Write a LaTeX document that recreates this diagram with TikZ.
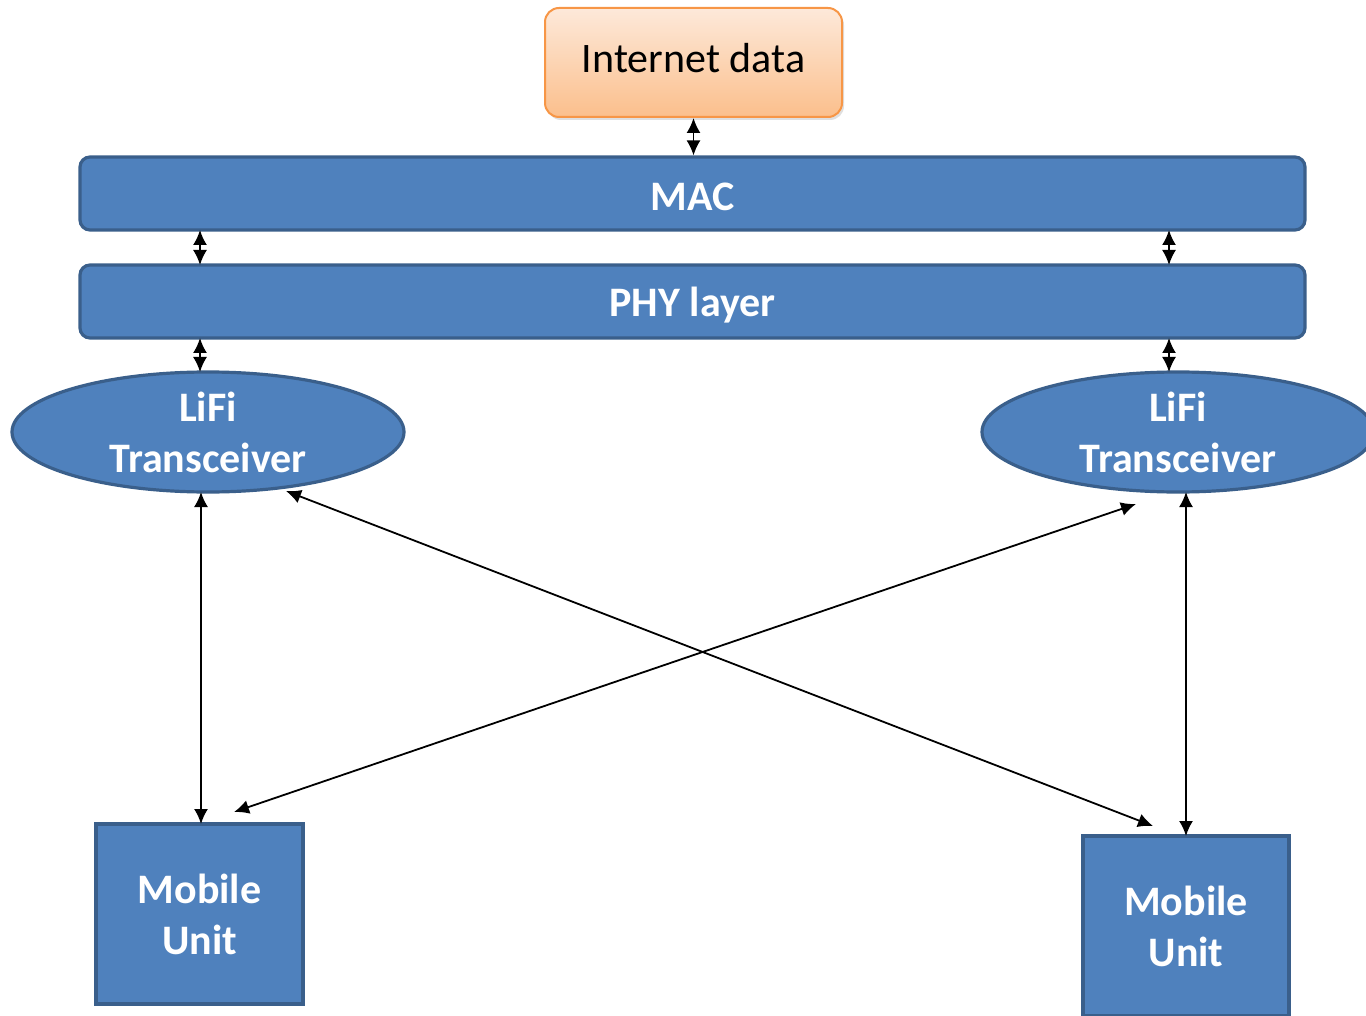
\documentclass[tikz,border=0pt]{standalone}
\usepackage{fontspec}
\setmainfont{Carlito}
\usetikzlibrary{arrows.meta,shapes.geometric,shadows}
\definecolor{bfill}{HTML}{4F81BD}
\definecolor{bdraw}{HTML}{3A5F8B}
\definecolor{odraw}{HTML}{F79646}
\definecolor{otop}{HTML}{FDE9DA}
\definecolor{obot}{HTML}{FBBF8C}
\tikzset{
  bluebox/.style={draw=bdraw, fill=bfill, line width=1.6pt, text=white,
    font=\fontsize{21}{25.5}\selectfont\bfseries, align=center, inner sep=0pt},
  conn/.style={line width=0.9pt, {Latex[length=7.5pt,width=7pt]}-{Latex[length=7.5pt,width=7pt]}},
}
\begin{document}
\begin{tikzpicture}[x=0.5pt,y=-0.5pt]
\useasboundingbox (0,0) rectangle (1366,1016);
% Internet data
\node (inet) [draw=odraw, line width=1pt, rounded corners=7pt, top color=otop, bottom color=obot,
  drop shadow={opacity=0.25, shadow xshift=1pt, shadow yshift=-1.5pt},
  minimum width=148.5pt, minimum height=54.5pt, inner sep=0pt,
  font=\fontsize{21}{25.5}\selectfont] at (693.5,62.5) {\raisebox{2pt}[\height][\depth]{Internet data}};
% MAC and PHY
\node (mac) [bluebox, rounded corners=5pt, minimum width=612.5pt, minimum height=36.5pt] at (692.5,193.5) {\raisebox{-1.75pt}[\height][\depth]{MAC}};
\node (phy) [bluebox, rounded corners=5pt, minimum width=612.5pt, minimum height=36.5pt] at (692.5,301.5) {\raisebox{-2pt}[\height][\depth]{PHY layer}};
% Ellipses
\node (lt) [bluebox, ellipse, minimum width=196pt, minimum height=60pt] at (208,432) {LiFi\\Transceiver};
\node (rt) [bluebox, ellipse, minimum width=196pt, minimum height=60pt] at (1178,432) {LiFi\\Transceiver};
% Mobile units
\node (lm) [bluebox, minimum width=103.5pt, minimum height=90pt] at (199.5,914) {Mobile\\Unit};
\node (rm) [bluebox, minimum width=103pt, minimum height=90pt] at (1186,926) {Mobile\\Unit};
% connector coordinates
\coordinate (a1) at (200,230); \coordinate (a2) at (200,265);
\coordinate (b1) at (1169,230); \coordinate (b2) at (1169,265);
\coordinate (c1) at (200,338); \coordinate (c2) at (200,372);
\coordinate (d1) at (1169,338); \coordinate (d2) at (1169,372);
\coordinate (e1) at (201,492); \coordinate (e2) at (201,824);
\coordinate (f1) at (1186,492); \coordinate (f2) at (1186,836);
\coordinate (g1) at (286,491); \coordinate (g2) at (1153,826);
\coordinate (h1) at (1136,504); \coordinate (h2) at (234,812);
\draw[conn] (inet.south) -- (mac.north -| inet.south);
\draw[conn] (a1) -- (a2);
\draw[conn] (b1) -- (b2);
\draw[conn] (c1) -- (c2);
\draw[conn] (d1) -- (d2);
\draw[conn] (e1) -- (e2);
\draw[conn] (f1) -- (f2);
\draw[conn] (g1) -- (g2);
\draw[conn] (h1) -- (h2);
\end{tikzpicture}
\end{document}
